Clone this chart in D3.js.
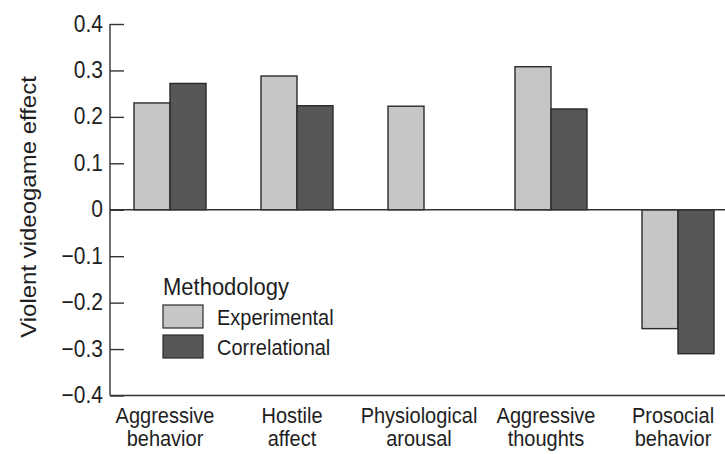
<!DOCTYPE html>
<html>
<head>
<meta charset="utf-8">
<script src="https://cdn.jsdelivr.net/npm/d3@7/dist/d3.min.js"></script>
<style>
  html, body { margin: 0; padding: 0; background: #ffffff; }
  svg { display: block; }
  text { font-family: "Liberation Sans", Arial, Helvetica, sans-serif; fill: #1e1e1e; }
</style>
</head>
<body>
<svg id="chart" width="725" height="454"></svg>
<script>
// ---- data ----
const categories = [
  ["Aggressive", "behavior"],
  ["Hostile", "affect"],
  ["Physiological", "arousal"],
  ["Aggressive", "thoughts"],
  ["Prosocial", "behavior"]
];
const categoryKeys = categories.map(c => c.join(" "));
const series = ["Experimental", "Correlational"];
const experimental = [0.23, 0.288, 0.223, 0.308, -0.256];
const correlational = [0.272, 0.224, null, 0.217, -0.31];
const yTicks = [0.4, 0.3, 0.2, 0.1, 0, -0.1, -0.2, -0.3, -0.4];
const yTitle = "Violent videogame effect";
const legendTitle = "Methodology";
const colors = ["#c6c6c6", "#575757"];

// ---- layout ----
const svg = d3.select("#chart");
const W = 725, H = 454;
const axisX = 110;
const SY = 1.12; // vertical stretch of lettering in the reference
const y = d3.scaleLinear().domain([-0.4, 0.4]).range([395.5, 24]);
const x = d3.scalePoint().domain(categoryKeys).range([170, 678]);
const x1 = d3.scaleBand().domain(series).range([-36, 36]).padding(0);

const rows = categoryKeys.map((k, i) => ({
  key: k,
  values: [
    { s: series[0], v: experimental[i] },
    { s: series[1], v: correlational[i] }
  ].filter(d => d.v !== null)
}));

// bars
const g = svg.append("g");
g.selectAll("g.cat").data(rows).join("g")
  .attr("class", "cat")
  .attr("transform", d => `translate(${x(d.key)},0)`)
  .selectAll("rect").data(d => d.values).join("rect")
  .attr("x", d => x1(d.s))
  .attr("width", x1.bandwidth())
  .attr("y", d => Math.min(y(d.v), y(0)))
  .attr("height", d => Math.abs(y(d.v) - y(0)))
  .attr("fill", d => colors[series.indexOf(d.s)])
  .attr("stroke", "#2a2a2a")
  .attr("stroke-width", 1.4);

// y axis (ticks pointing inward)
const yAxis = d3.axisRight(y)
  .tickValues(yTicks)
  .tickSize(14)
  .tickFormat(() => "");
const ya = svg.append("g").attr("transform", `translate(${axisX},0)`).call(yAxis);
ya.select(".domain").remove();
ya.selectAll(".tick line").attr("stroke", "#333").attr("stroke-width", 1.4);
svg.append("line")
  .attr("x1", axisX).attr("x2", axisX)
  .attr("y1", y(0.4)).attr("y2", y(-0.4))
  .attr("stroke", "#333").attr("stroke-width", 1.4);

// tick labels
const fmt = d => d === 0 ? "0" : d3.format(".1f")(d);
svg.append("g").selectAll("text").data(yTicks).join("text")
  .attr("transform", d => `translate(103,${y(d) + 7.5}) scale(1,${SY})`)
  .attr("text-anchor", "end")
  .attr("font-size", 21)
  .text(fmt);

// zero line and bottom line
svg.append("line")
  .attr("x1", axisX).attr("x2", W)
  .attr("y1", y(0)).attr("y2", y(0))
  .attr("stroke", "#333").attr("stroke-width", 1.4);
svg.append("line")
  .attr("x1", axisX).attr("x2", W)
  .attr("y1", y(-0.4)).attr("y2", y(-0.4))
  .attr("stroke", "#333").attr("stroke-width", 1.4);

// category labels
const cl = svg.append("g").selectAll("g").data(categories).join("g")
  .attr("transform", (d, i) => `translate(${x(categoryKeys[i]) - 5},0)`);
cl.append("text")
  .attr("text-anchor", "middle").attr("font-size", 20)
  .attr("transform", `translate(0,423) scale(1,${SY})`)
  .text(d => d[0]);
cl.append("text")
  .attr("text-anchor", "middle").attr("font-size", 20)
  .attr("transform", `translate(0,446) scale(1,${SY})`)
  .text(d => d[1]);

// y title
svg.append("text")
  .attr("transform", `translate(36,207) rotate(-90) scale(1.09,1)`)
  .attr("text-anchor", "middle")
  .attr("font-size", 22)
  .text(yTitle);

// legend
const lg = svg.append("g");
lg.append("text")
  .attr("transform", `translate(163,295) scale(1,${SY})`)
  .attr("font-size", 22).text(legendTitle);
const li = lg.selectAll("g.item").data(series).join("g")
  .attr("class", "item")
  .attr("transform", (d, i) => `translate(163,${305 + i * 30})`);
li.append("rect")
  .attr("width", 40).attr("height", 23)
  .attr("fill", (d, i) => colors[i])
  .attr("stroke", "#2a2a2a").attr("stroke-width", 1.2);
li.append("text")
  .attr("transform", `translate(54,20) scale(1,${SY})`)
  .attr("font-size", 20)
  .text(d => d);
</script>
</body>
</html>
